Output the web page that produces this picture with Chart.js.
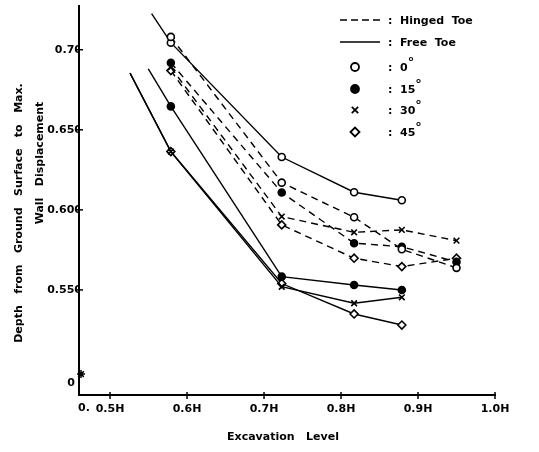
<!DOCTYPE html>
<html><head><meta charset="utf-8">
<script src="https://cdn.jsdelivr.net/npm/chart.js@4"></script>
<style>html,body{margin:0;padding:0;background:#fff}</style>
</head><body>
<canvas id="c" width="539" height="452"></canvas>
<script>
// ---- data ----
const xTickValues = [0.5, 0.6, 0.7, 0.8, 0.9, 1.0];
const xTickLabels = ['0.5H', '0.6H', '0.7H', '0.8H', '0.9H', '1.0H'];
const yTickValues = [0.55, 0.60, 0.65, 0.70];
const yTickLabels = ['0.550', '0.600', '0.650', '0.70'];
const xOriginLabel = '0.';
const yOriginLabel = '0';

const levelsHinged = [0.579, 0.723, 0.817, 0.879, 0.950];
const levelsFree   = [0.579, 0.723, 0.817, 0.879];

const hinged0  = [0.708, 0.617, 0.5954, 0.5754, 0.5638];
const hinged15 = [0.6919, 0.6108, 0.5792, 0.577, 0.5675];
const hinged30 = [0.689, 0.5958, 0.586, 0.5875, 0.5808];
const hinged45 = [0.687, 0.5906, 0.5698, 0.5646, 0.5698];

// free-toe curves start from an unmarked point up-left of the first marker
const freeStartX = [0.554, 0.5497, 0.526, 0.526];
const freeStartY = [0.7225, 0.688, 0.6854, 0.6854];
const free0  = [0.7044, 0.633, 0.611, 0.606];
const free15 = [0.6646, 0.5583, 0.5531, 0.550];
const free30 = [0.6364, 0.552, 0.5417, 0.5454];
const free45 = [0.6364, 0.554, 0.535, 0.5281];

const angleLabels = ['0', '15', '30', '45'];
const typeLabels = ['Hinged  Toe', 'Free  Toe'];

const X_MIN = 0.4597, X_MAX = 1.0;
const Y_MIN = 0.4844, Y_MAX = 0.7273;
const BREAK_Y = 0.4975;

// ---- styles ----
const FONT = '"DejaVu Sans", sans-serif';
const markerStyles = [
  {pointStyle: 'circle', bg: '#fff', r: 3.5},
  {pointStyle: 'circle', bg: '#000', r: 3.5},
  {pointStyle: 'crossRot', bg: '#000', r: 4},
  {pointStyle: 'rectRot', bg: '#fff', r: 4}
];

function pts(xs, ys) { return xs.map((x, i) => ({x: x, y: ys[i]})); }

const hingedSets = [hinged0, hinged15, hinged30, hinged45];
const freeSets = [free0, free15, free30, free45];

const datasets = [];
hingedSets.forEach((vals, k) => {
  const m = markerStyles[k];
  datasets.push({
    label: 'Hinged ' + angleLabels[k],
    data: pts(levelsHinged, vals),
    borderColor: '#000', borderWidth: 1.4, borderDash: [7, 5],
    pointStyle: m.pointStyle, pointRadius: m.r, pointBackgroundColor: m.bg,
    pointBorderColor: '#000', pointBorderWidth: 1.6, tension: 0
  });
});
freeSets.forEach((vals, k) => {
  const m = markerStyles[k];
  const xs = [freeStartX[k]].concat(levelsFree);
  const ys = [freeStartY[k]].concat(vals);
  datasets.push({
    label: 'Free ' + angleLabels[k],
    data: pts(xs, ys),
    borderColor: '#000', borderWidth: 1.4,
    pointStyle: m.pointStyle, pointRadius: xs.map((_, i) => i === 0 ? 0 : m.r),
    pointBackgroundColor: m.bg, pointBorderColor: '#000', pointBorderWidth: 1.6, tension: 0
  });
});

const decor = {
  id: 'decor',
  afterDraw(chart) {
    const ctx = chart.ctx, xs = chart.scales.x, ys = chart.scales.y;
    ctx.save();
    ctx.fillStyle = '#000'; ctx.strokeStyle = '#000';
    // crossing tick marks
    ctx.lineWidth = 1.5;
    xTickValues.forEach(v => {
      const px = xs.getPixelForValue(v);
      ctx.beginPath(); ctx.moveTo(px, ys.bottom - 3); ctx.lineTo(px, ys.bottom + 4); ctx.stroke();
    });
    yTickValues.forEach(v => {
      const py = ys.getPixelForValue(v);
      ctx.beginPath(); ctx.moveTo(xs.left - 3, py); ctx.lineTo(xs.left + 4, py); ctx.stroke();
    });
    // axis break mark
    Chart.helpers.drawPoint(ctx, {pointStyle: 'star', radius: 4, rotation: 0, borderWidth: 1.5},
      xs.getPixelForValue(X_MIN) + 2, ys.getPixelForValue(BREAK_Y));
    // origin labels
    ctx.font = 'bold 11px ' + FONT;
    ctx.textAlign = 'center'; ctx.textBaseline = 'middle';
    ctx.fillText(xOriginLabel, xs.getPixelForValue(X_MIN) + 5, ys.bottom + 13);
    ctx.fillText(yOriginLabel, xs.left - 8, ys.bottom - 12);
    // axis titles
    ctx.fillText('Excavation   Level', (xs.left + xs.right) / 2 - 4, 437);
    ctx.save();
    ctx.translate(19, 213); ctx.rotate(-Math.PI / 2);
    ctx.fillText('Depth   from   Ground   Surface   to   Max.', 0, 0);
    ctx.restore();
    ctx.save();
    ctx.translate(40, 163); ctx.rotate(-Math.PI / 2);
    ctx.fillText('Wall   Displacement', 0, 0);
    ctx.restore();
    // legend
    ctx.textAlign = 'left';
    const lx0 = 340, lx1 = 380, colonX = 388, textX = 400;
    ctx.lineWidth = 1.6;
    ctx.setLineDash([7, 4]);
    ctx.beginPath(); ctx.moveTo(lx0, 20); ctx.lineTo(lx1, 20); ctx.stroke();
    ctx.setLineDash([]);
    ctx.beginPath(); ctx.moveTo(lx0, 42); ctx.lineTo(lx1, 42); ctx.stroke();
    ctx.fillText(':', colonX, 21); ctx.fillText(typeLabels[0], textX, 21);
    ctx.fillText(':', colonX, 43); ctx.fillText(typeLabels[1], textX, 43);
    const rowY = [67, 89, 110, 132];
    markerStyles.forEach((m, k) => {
      ctx.fillStyle = m.bg; ctx.strokeStyle = '#000'; ctx.lineWidth = 1.8;
      Chart.helpers.drawPoint(ctx, {pointStyle: m.pointStyle, radius: m.r + 0.5, rotation: 0, borderWidth: 1.8}, 355, rowY[k]);
      ctx.fillStyle = '#000';
      ctx.font = 'bold 11px ' + FONT;
      ctx.fillText(':', colonX, rowY[k] + 1);
      ctx.fillText(angleLabels[k], textX, rowY[k] + 1);
      const w = ctx.measureText(angleLabels[k]).width;
      ctx.font = 'bold 13px ' + FONT;
      ctx.fillText('\u00B0', textX + w, rowY[k] - 4);
    });
    ctx.restore();
  }
};

new Chart(document.getElementById('c'), {
  type: 'line',
  data: {datasets: datasets},
  options: {
    responsive: false, animation: false, devicePixelRatio: 1,
    layout: {padding: {top: 6, right: 44, left: 0, bottom: 0}},
    plugins: {legend: {display: false}, tooltip: {enabled: false}, title: {display: false}},
    scales: {
      x: {
        type: 'linear', position: 'bottom', min: X_MIN, max: X_MAX,
        afterBuildTicks: s => { s.ticks = xTickValues.map(v => ({value: v})); },
        afterFit: s => { s.height = 57; s.paddingLeft = 0; s.paddingRight = 0; },
        ticks: {
          callback: (v, i) => xTickLabels[i], autoSkip: false, maxRotation: 0,
          color: '#000', font: {family: FONT, size: 11, weight: 'bold'}, padding: 8
        },
        grid: {display: true, drawOnChartArea: false, drawTicks: false},
        border: {display: true, color: '#000', width: 2}
      },
      y: {
        type: 'linear', min: Y_MIN, max: Y_MAX,
        afterBuildTicks: s => { s.ticks = yTickValues.map(v => ({value: v})); },
        afterFit: s => { s.width = 79; s.paddingTop = 0; s.paddingBottom = 0; },
        ticks: {
          callback: (v, i) => yTickLabels[i], autoSkip: false,
          color: '#000', font: {family: FONT, size: 11, weight: 'bold'}, padding: -3
        },
        grid: {display: true, drawOnChartArea: false, drawTicks: false},
        border: {display: true, color: '#000', width: 2}
      }
    }
  },
  plugins: [decor]
});
</script>
</body></html>
